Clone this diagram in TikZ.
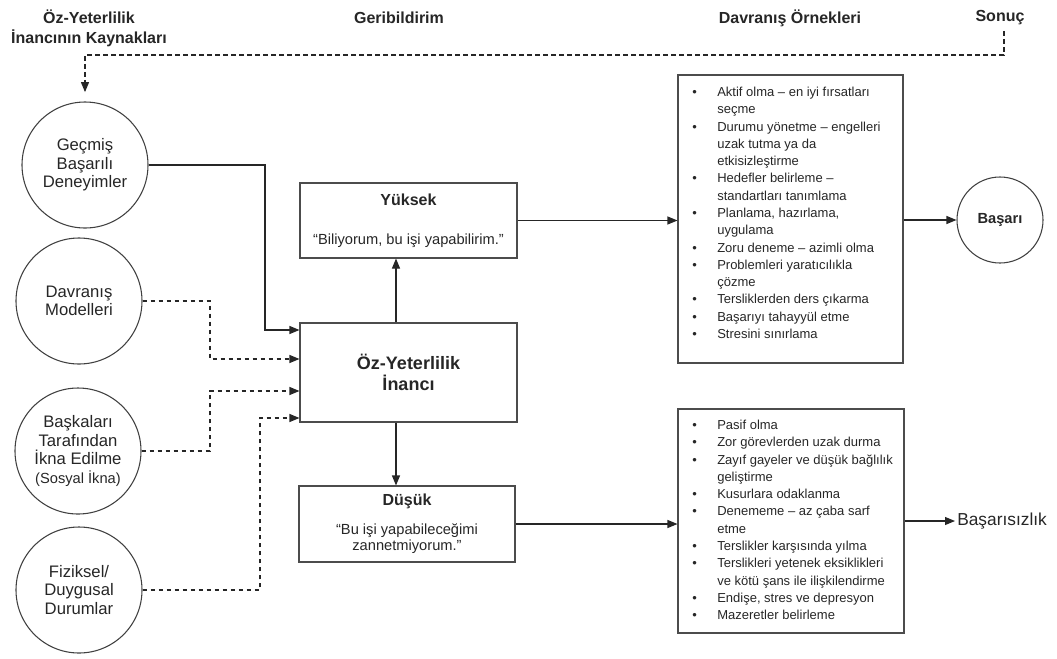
\documentclass[tikz,border=0pt]{standalone}
\usepackage{fontspec}
\setmainfont{Liberation Sans}
\usetikzlibrary{arrows.meta,calc}
\newcommand\lsitem{\strut\makebox[18.75pt][l]{\textbullet}}
\newcommand\lscont{\strut\hspace*{18.75pt}}
\begin{document}
\begin{tikzpicture}[x=0.75pt,y=-0.75pt,
  every node/.style={text=black!85},
  src/.style={circle,draw=black!75,line width=0.8pt,minimum size=94.5pt,inner sep=0pt,align=center,font=\fontsize{12.5}{13.9}\selectfont},
  fbox/.style={draw=black!70,line width=0.8pt,inner sep=0pt,align=center},
  hdr/.style={font=\bfseries\fontsize{12}{15}\selectfont,align=center,inner sep=0pt},
  conn/.style={draw=black!85,line width=0.8pt,-{Triangle[length=7.5pt,width=6pt]}},
  dconn/.style={conn,dash pattern=on 3.5pt off 2.5pt},
  listtxt/.style={anchor=north west,inner sep=0pt,align=left,font=\fontsize{9.75}{12.95}\selectfont}
]
\useasboundingbox (0,0) rectangle (1057,658);

% headers
\node[hdr] (h1) at (89,28) {Öz-Yeterlilik\\İnancının Kaynakları};
\node[hdr] (h2) at (399,18) {Geribildirim};
\node[hdr] (h3) at (790,18) {Davranış Örnekleri};
\node[hdr] (h4) at (1000,18) {Sonuç};

% source circles
\node[src] (c1) at (85,165) {Geçmiş\\Başarılı\\Deneyimler};
\node[src] (c2) at (79,301) {Davranış\\Modelleri};
\node[src] (c3) at (78,451) {Başkaları\\Tarafından\\İkna Edilme\\{\fontsize{11}{13.9}\selectfont (Sosyal İkna)}};
\node[src] (c4) at (79,590) {Fiziksel/\\Duygusal\\Durumlar};

% central boxes
\node[fbox, minimum width=162.75pt, minimum height=74.25pt, font=\bfseries\fontsize{13.5}{15.75}\selectfont] (oz) at (408.5,372.5) {Öz-Yeterlilik\\İnancı};
\node[fbox, minimum width=162.75pt, minimum height=56.25pt, font=\fontsize{11}{13}\selectfont] (yuk) at (408.5,220.5) {{\bfseries\fontsize{12}{13}\selectfont Yüksek}\\[16.25pt]“Biliyorum, bu işi yapabilirim.”};
\node[fbox, minimum width=162pt, minimum height=57pt, font=\fontsize{11}{12.25}\selectfont] (dus) at (407,524) {{\bfseries\fontsize{12}{12.25}\selectfont Düşük}\\[9.5pt]“Bu işi yapabileceğimi\\zannetmiyorum.”};

% list boxes
\node[fbox, minimum width=168.75pt, minimum height=216pt] (l1) at (790.5,219) {};
\node[listtxt] (l1t) at (692,84.3) {%
\lsitem Aktif olma – en iyi fırsatları\\
\lscont seçme\\
\lsitem Durumu yönetme – engelleri\\
\lscont uzak tutma ya da\\
\lscont etkisizleştirme\\
\lsitem Hedefler belirleme –\\
\lscont standartları tanımlama\\
\lsitem Planlama, hazırlama,\\
\lscont uygulama\\
\lsitem Zoru deneme – azimli olma\\
\lsitem Problemleri yaratıcılıkla\\
\lscont çözme\\
\lsitem Tersliklerden ders çıkarma\\
\lsitem Başarıyı tahayyül etme\\
\lsitem Stresini sınırlama};

\node[fbox, minimum width=169.5pt, minimum height=168pt] (l2) at (791,521) {};
\node[listtxt] (l2t) at (692,417.3) {%
\lsitem Pasif olma\\
\lsitem Zor görevlerden uzak durma\\
\lsitem Zayıf gayeler ve düşük bağlılık\\
\lscont geliştirme\\
\lsitem Kusurlara odaklanma\\
\lsitem Denememe – az çaba sarf\\
\lscont etme\\
\lsitem Terslikler karşısında yılma\\
\lsitem Terslikleri yetenek eksiklikleri\\
\lscont ve kötü şans ile ilişkilendirme\\
\lsitem Endişe, stres ve depresyon\\
\lsitem Mazeretler belirleme};

% outcomes
\node[circle,draw=black!75,line width=0.8pt,minimum size=64.5pt,inner sep=0pt,font=\bfseries\fontsize{11}{13}\selectfont] (bas) at (1000,220) {Başarı};
\node[anchor=west,inner sep=1.5pt,font=\fontsize{13}{15}\selectfont] (basz) at (955,521) {Başarısızlık};

% feedback loop
\coordinate (fb) at (1004,55);
\draw[dconn, shorten <=4pt, shorten >=7pt] (h4.south -| fb) -- (fb) -| (c1.north);

% sources to belief
\coordinate (j1) at (265,330);
\coordinate (j2) at (210,359);
\coordinate (j3) at (210,391);
\coordinate (j4) at (260,418);
\draw[conn] (c1.east) -| (j1) -- (j1 -| oz.west);
\draw[dconn] (c2.east) -| (j2) -- (j2 -| oz.west);
\draw[dconn] (c3.east) -| (j3) -- (j3 -| oz.west);
\draw[dconn] (c4.east) -| (j4) -- (j4 -| oz.west);

% belief to levels
\coordinate (vx) at (396,0);
\draw[conn] (oz.north -| vx) -- (yuk.south -| vx);
\draw[conn] (oz.south -| vx) -- (dus.north -| vx);

% levels to behaviours
\draw[conn] (yuk.east) -- (yuk.east -| l1.west);
\draw[conn] (dus.east) -- (dus.east -| l2.west);

% behaviours to outcomes
\draw[conn] (l1.east |- bas.west) -- (bas.west);
\draw[conn] (l2.east |- basz.west) -- (basz.west);
\end{tikzpicture}
\end{document}
